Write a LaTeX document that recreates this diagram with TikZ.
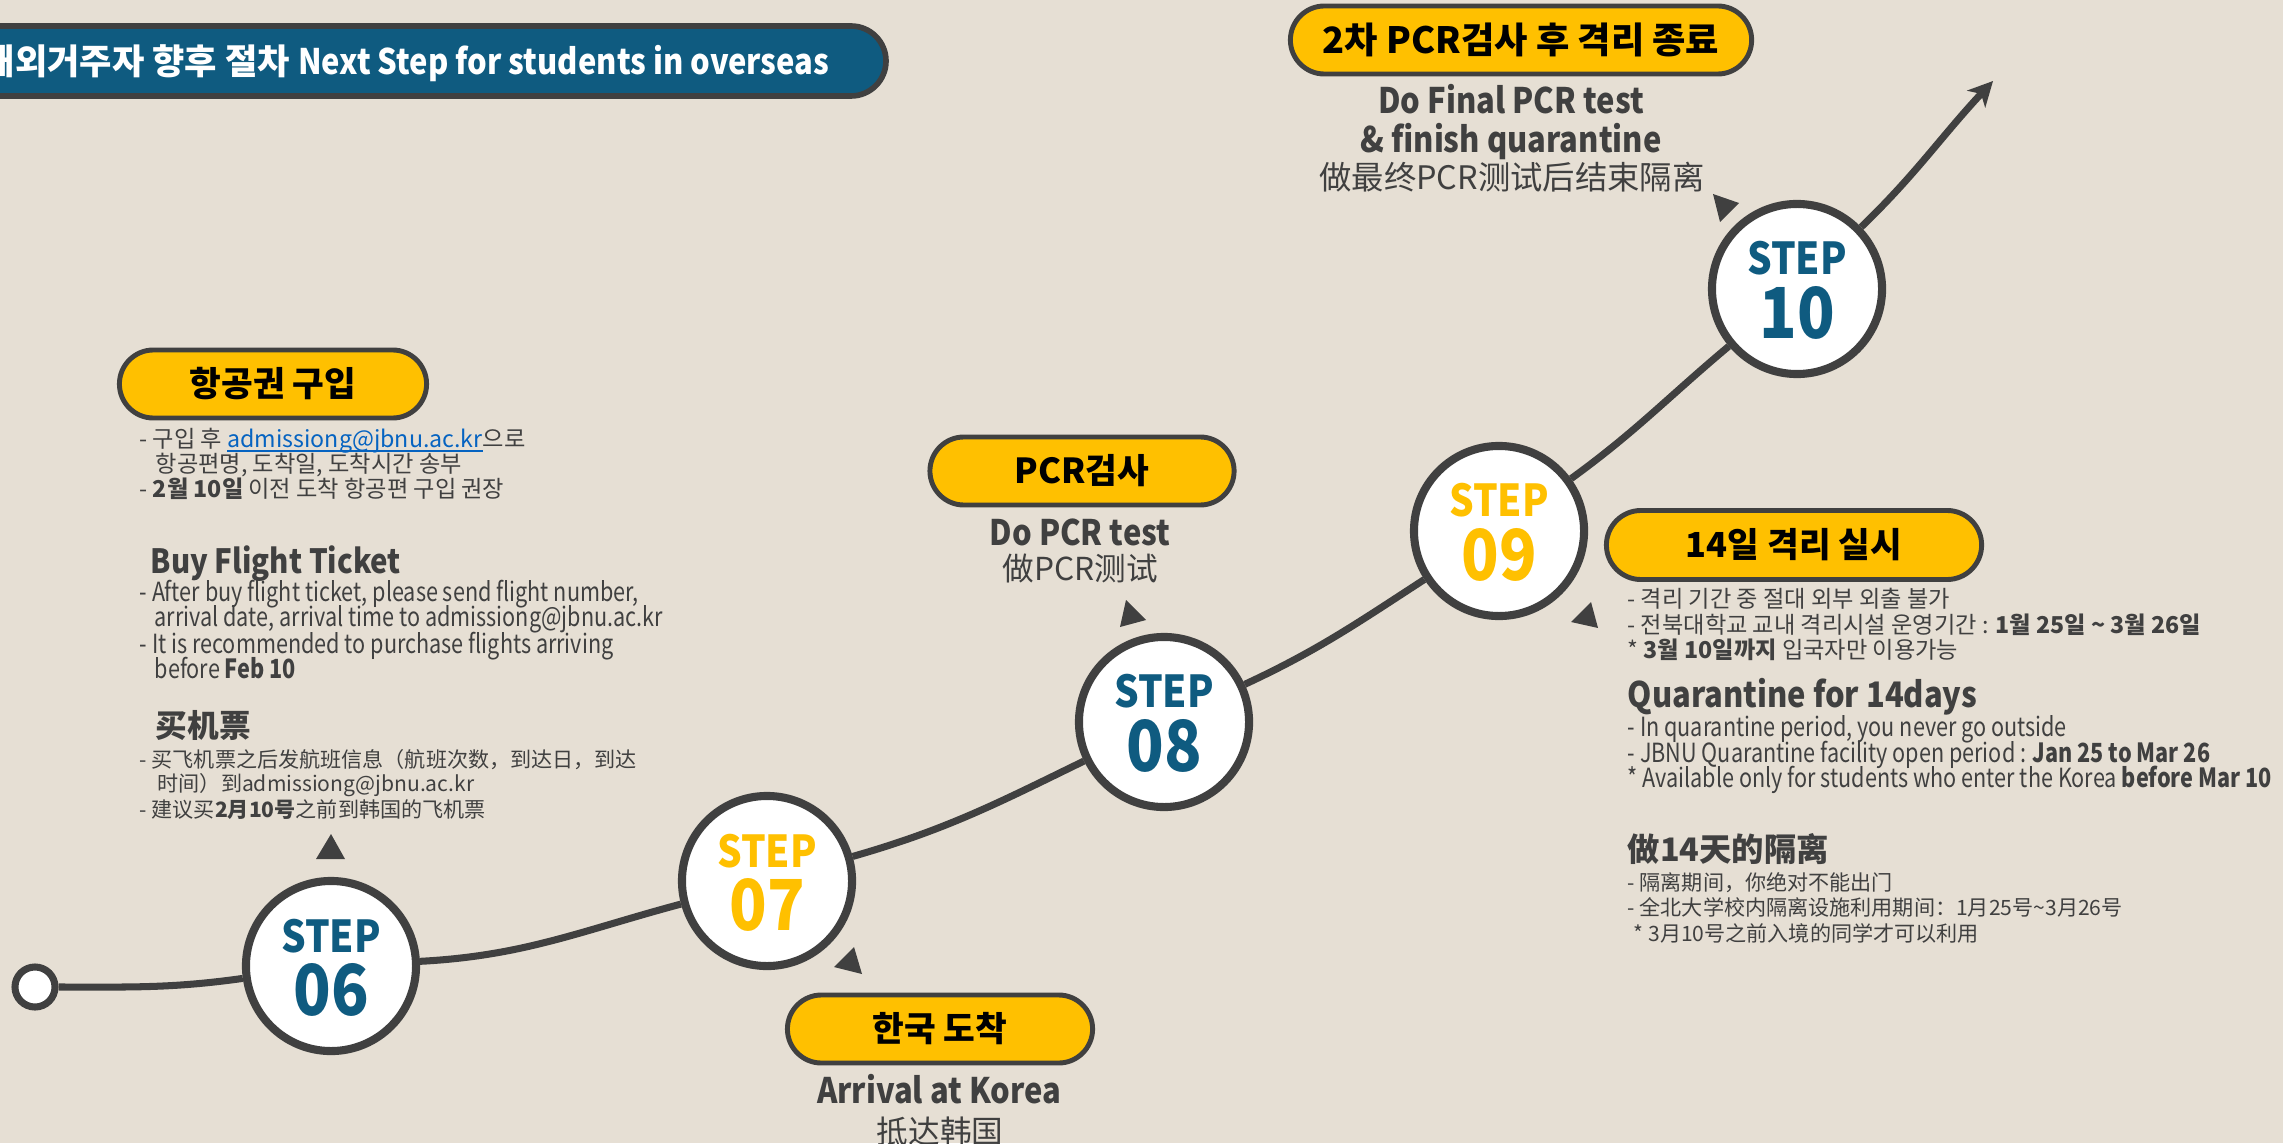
\documentclass[tikz,border=0pt]{standalone}
\usepackage{fontspec}
\setmainfont{Noto Sans CJK KR}
\newfontfamily\krf{Noto Sans CJK KR}
\newfontfamily\enf[FakeStretch=0.82]{Noto Sans CJK KR}
\newfontfamily\enbf[FakeStretch=0.88]{Noto Sans CJK KR}
\newfontfamily\zhf{Noto Sans CJK SC}
\usetikzlibrary{arrows.meta}
\definecolor{bgc}{HTML}{E6DFD4}
\definecolor{dkc}{HTML}{404040}
\definecolor{stepblue}{HTML}{0F5B80}
\definecolor{ylw}{HTML}{FFC000}
\definecolor{lnk}{HTML}{0563C1}
\newcommand{\fs}[1]{\fontsize{#1}{#1}\selectfont}
\newcommand{\ulink}[1]{\setbox0=\hbox{#1}\rlap{\rule[-1.3pt]{\wd0}{0.4pt}}\box0}
\begin{document}
\begin{tikzpicture}[x=0.01cm,y=0.01cm,
  stepc/.style={circle, draw=dkc, fill=white, line width=2.3pt, minimum size=1.7cm, inner sep=0pt},
  stepword/.style={anchor=base, inner sep=0pt, font=\enbf\bfseries\fs{12.5}},
  stepnum/.style={anchor=base, inner sep=0pt, font=\enbf\bfseries\fs{20}},
  pill/.style={draw=dkc, fill=ylw, line width=1.4pt, rounded corners=0.34cm, minimum height=0.68cm, inner sep=0pt, font=\bfseries\fs{9.8}, text=black},
  trail/.style={draw=dkc, line width=2pt},
  subE/.style={anchor=base, inner sep=0pt, font=\enbf\bfseries\fs{10}, text=dkc},
  subZ/.style={anchor=base, inner sep=0pt, font=\zhf\fs{9}, text=dkc},
  kr/.style={anchor=base west, inner sep=0pt, font=\krf\fs{6.6}, text=dkc},
  en/.style={anchor=base west, inner sep=0pt, font=\enf\fs{7.5}, text=dkc},
  zh/.style={anchor=base west, inner sep=0pt, font=\zhf\fs{6}, text=dkc},
  head/.style={anchor=base west, inner sep=0pt, font=\enbf\bfseries\fs{9.5}, text=dkc},
  tri/.style={fill=dkc},
]
\fill[bgc] (0,0) rectangle (2283,-1143);
\useasboundingbox (0,0) rectangle (2283,-1143);
\clip (0,0) rectangle (2283,-1143);

% title bar
\draw[dkc, line width=1.6pt, fill=stepblue, rounded corners=0.35cm] (-100,-26) rectangle (886,-96);
\node[anchor=base east, inner sep=0pt, text=white, font=\bfseries\fs{10}] (title) at (830,-75) {해외거주자 향후 절차 {\enbf Next Step for students in overseas}};

% step circles
\node[circle, draw=dkc, fill=white, line width=2pt, minimum size=0.4cm, inner sep=0pt] (start) at (35,-987) {};
\node[stepc] (s06) at (331,-966) {};
\node[stepc] (s07) at (767,-881) {};
\node[stepc] (s08) at (1164,-722) {};
\node[stepc] (s09) at (1499,-531) {};
\node[stepc] (s10) at (1797,-289) {};
\coordinate (end) at (1993,-81);

% trail
\draw[trail] (start) to[out=0,in=188] (s06);
\draw[trail] (s06) to[out=3,in=195] (s07);
\draw[trail] (s07) to[out=16,in=206] (s08);
\draw[trail] (s08) to[out=25,in=213] (s09);
\draw[trail] (s09) to[out=36,in=220] (s10);
\draw[trail, -{Stealth[length=7pt,width=7pt,inset=2pt]}] (s10) to[out=44,in=227] (end);

% step labels
\node[stepword, text=stepblue] (s06a) at ([yshift=0.14cm]s06.center) {STEP};
\node[stepnum, text=stepblue] (s06b) at ([yshift=-0.49cm]s06.center) {06};
\node[stepword, text=ylw] (s07a) at ([yshift=0.14cm]s07.center) {STEP};
\node[stepnum, text=ylw] (s07b) at ([yshift=-0.49cm]s07.center) {07};
\node[stepword, text=stepblue] (s08a) at ([yshift=0.14cm]s08.center) {STEP};
\node[stepnum, text=stepblue] (s08b) at ([yshift=-0.49cm]s08.center) {08};
\node[stepword, text=ylw] (s09a) at ([yshift=0.14cm]s09.center) {STEP};
\node[stepnum, text=ylw] (s09b) at ([yshift=-0.49cm]s09.center) {09};
\node[stepword, text=stepblue] (s10a) at ([yshift=0.14cm]s10.center) {STEP};
\node[stepnum, text=stepblue] (s10b) at ([yshift=-0.49cm]s10.center) {10};

% pointer triangles
\fill[tri] (331,-834) -- (316,-859) -- (345,-859) -- cycle;
\fill[tri] (854,-947) -- (834,-967) -- (862,-974) -- cycle;
\fill[tri] (1126,-600) -- (1120,-627) -- (1146,-620) -- cycle;
\fill[tri] (1591,-602) -- (1571,-622) -- (1598,-628) -- cycle;
\fill[tri] (1713,-194) -- (1739,-203) -- (1720,-222) -- cycle;

% pills
\node[pill, minimum width=3.07cm] (p1) at (273,-384) {항공권 구입};
\node[pill, minimum width=3.04cm] (p2) at (1082,-471) {PCR검사};
\node[pill, minimum width=3.05cm] (p3) at (940,-1029) {한국 도착};
\node[pill, minimum width=3.75cm, minimum height=0.69cm, rounded corners=0.345cm] (p4) at (1794,-545) {14일 격리 실시};
\node[pill, minimum width=4.61cm, font=\bfseries\fs{10.3}] (p5) at (1521,-40) {2차 PCR검사 후 격리 종료};

% texts under pills
\node[subE] (p2e) at (1080,-545) {Do PCR test};
\node[subZ] (p2z) at (1080,-580) {做PCR测试};
\node[subE] (p5e1) at (1511,-114) {Do Final PCR test};
\node[subE] (p5e2) at (1511,-153) {\& finish quarantine};
\node[subZ, font=\zhf\fs{9.2}] (p5z) at (1512,-190) {做最终PCR测试后结束隔离};
\node[subE] (p3e) at (939,-1103) {Arrival at Korea};
\node[subZ] (p3z) at (940,-1143) {抵达韩国};

% left block
\node[kr] (k1) at (139,-447) {- 구입 후 \textcolor{lnk}{\ulink{admissiong@jbnu.ac.kr}}으로};
\node[kr] (k2) at (155,-472) {항공편명, 도착일, 도착시간 송부};
\node[kr] (k3) at (139,-497) {- \textbf{2월 10일} 이전 도착 항공편 구입 권장};
\node[head] (hbuy) at (150,-573) {Buy Flight Ticket};
\node[en] (e1) at (139,-601) {- After buy flight ticket, please send flight number,};
\node[en] (e2) at (154,-626) {arrival date, arrival time to admissiong@jbnu.ac.kr};
\node[en] (e3) at (139,-653) {- It is recommended to purchase flights arriving};
\node[en] (e4) at (154,-678) {before \textbf{Feb 10}};
\node[head, font=\zhf\bfseries\fs{9}] (hzh) at (155,-737) {买机票};
\node[zh] (z1) at (139,-767) {- 买飞机票之后发航班信息（航班次数，到达日，到达};
\node[zh] (z2) at (157,-791) {时间）到admissiong@jbnu.ac.kr};
\node[zh] (z3) at (139,-817) {- 建议买\textbf{2月10号}之前到韩国的飞机票};

% right block
\node[kr] (rk1) at (1627,-607) {- 격리 기간 중 절대 외부 외출 불가};
\node[kr] (rk2) at (1627,-633) {- 전북대학교 교내 격리시설 운영기간 : \textbf{1월 25일 \textasciitilde{} 3월 26일}};
\node[kr] (rk3) at (1627,-658) {* \textbf{3월 10일까지} 입국자만 이용가능};
\node[head, font=\enbf\bfseries\fs{10}] (hq) at (1627,-707) {Quarantine for 14days};
\node[en] (re1) at (1627,-736) {- In quarantine period, you never go outside};
\node[en] (re2) at (1627,-762) {- JBNU Quarantine facility open period : \textbf{Jan 25 to Mar 26}};
\node[en] (re3) at (1627,-787) {* Available only for students who enter the Korea \textbf{before Mar 10}};
\node[head, font=\zhf\bfseries\fs{9.2}] (hz) at (1627,-861) {做14天的隔离};
\node[zh] (rz1) at (1627,-890) {- 隔离期间，你绝对不能出门};
\node[zh] (rz2) at (1627,-915) {- 全北大学校内隔离设施利用期间：1月25号\textasciitilde{}3月26号};
\node[zh] (rz3) at (1633,-941) {* 3月10号之前入境的同学才可以利用};
\end{tikzpicture}
\end{document}
